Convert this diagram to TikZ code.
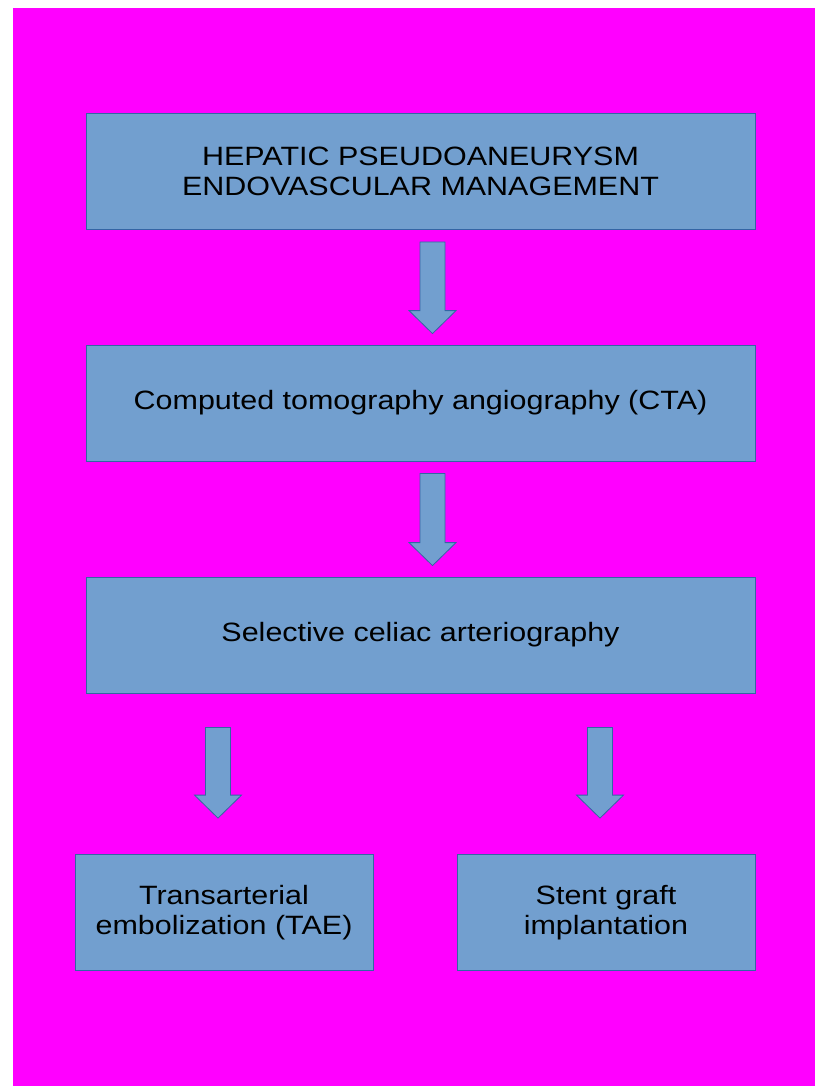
\documentclass[tikz,border=0pt]{standalone}
\usepackage{fontspec}
\setmainfont{Liberation Sans}[FakeStretch=1.15]
\usetikzlibrary{calc}
\definecolor{bgmagenta}{HTML}{FF00FF}
\definecolor{boxblue}{HTML}{729FCF}
\definecolor{boxline}{HTML}{3465A4}
\tikzset{
	stagebox/.style={draw=boxline, fill=boxblue, line width=0.8pt, minimum width=669pt, minimum height=116pt, align=center, inner sep=0pt, font=\fontsize{26.5}{30}\selectfont},
	halfbox/.style={stagebox, minimum width=298pt},
	arrowblock/.style={draw=boxline, fill=boxblue, line width=0.8pt}
}
% block arrow from #1 (top of shaft) down to #2 (tip)
\newcommand{\flowarrow}[2]{\draw[arrowblock] let \p1=(#1), \p2=(#2) in (\x1-12.5pt,\y1) -- (\x1+12.5pt,\y1) -- (\x1+12.5pt,\y2+23pt) -- (\x1+23.5pt,\y2+23pt) -- (\x1,\y2) -- (\x1-23.5pt,\y2+23pt) -- (\x1-12.5pt,\y2+23pt) -- cycle;}
\begin{document}
\begin{tikzpicture}[x=1pt,y=-1pt]
	\useasboundingbox (0,0) rectangle (815,1086);
	\fill[white] (0,0) rectangle (815,1086);
	\fill[bgmagenta] (13,8) rectangle (815,1086);
	
	\node[stagebox] (hepatic) at (420.5,171.5) {HEPATIC PSEUDOANEURYSM\\ENDOVASCULAR MANAGEMENT};
	\node[stagebox] (cta) at (420.5,403) {Computed tomography angiography (CTA)};
	\node[stagebox] (celiac) at (420.5,635) {Selective celiac arteriography};
	\node[halfbox] (tae) at (224,912.5) {Transarterial\\embolization (TAE)};
	\node[halfbox] (stent) at (606,912.5) {Stent graft\\implantation};
	
	\coordinate (a1top) at ($(hepatic.south)+(12,12)$);
	\coordinate (a1tip) at ($(cta.north)+(12,-11)$);
	\coordinate (a2top) at ($(cta.south)+(12,12)$);
	\coordinate (a2tip) at ($(celiac.north)+(12,-11)$);
	\coordinate (a3top) at ($(celiac.south -| tae.north)+(-6,34)$);
	\coordinate (a3tip) at ($(tae.north)+(-6,-36)$);
	\coordinate (a4top) at ($(celiac.south -| stent.north)+(-6,34)$);
	\coordinate (a4tip) at ($(stent.north)+(-6,-36)$);
	
	\flowarrow{a1top}{a1tip}
	\flowarrow{a2top}{a2tip}
	\flowarrow{a3top}{a3tip}
	\flowarrow{a4top}{a4tip}
\end{tikzpicture}
\end{document}
